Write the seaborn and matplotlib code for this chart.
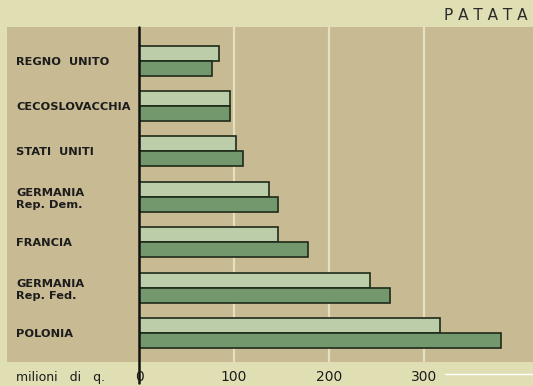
import matplotlib
matplotlib.use("Agg")
import matplotlib.pyplot as plt
import seaborn as sns
import pandas as pd
from matplotlib.patches import Rectangle

paesi = ["REGNO  UNITO", "CECOSLOVACCHIA", "STATI  UNITI", "GERMANIA\nRep. Dem.",
         "FRANCIA", "GERMANIA\nRep. Fed.", "POLONIA"]
serie = ["A", "B"]
valori_a = [84, 96, 102, 137, 146, 243, 317]
valori_b = [77, 96, 110, 146, 178, 264, 381]
ticks = [0, 100, 200, 300]

df = pd.DataFrame({
    "paese": paesi * 2,
    "serie": [serie[0]] * len(paesi) + [serie[1]] * len(paesi),
    "valore": valori_a + valori_b,
})

sns.set_theme(style="white")
plt.rcParams["font.family"] = ["DejaVu Sans"]

W, H = 533, 386
fig = plt.figure(figsize=(W / 100, H / 100), dpi=100)
fig.patch.set_facecolor("#dfdfb3")

BG = "#c8ba92"
x0, x1 = 139, 533
y0, y1 = 27, 362
# panel part to the left of the axis
fig.patches.append(Rectangle((7 / W, 1 - y1 / H), (x0 - 7) / W, (y1 - y0) / H,
                             transform=fig.transFigure, facecolor=BG,
                             edgecolor="none", zorder=-5))
ax = fig.add_axes([x0 / W, 1 - y1 / H, (x1 - x0) / W, (y1 - y0) / H])
ax.set_facecolor(BG)

sns.barplot(data=df, y="paese", x="valore", hue="serie", orient="h",
            palette=["#bdd3a3", "#6f9f66"], width=0.66, dodge=True,
            edgecolor="#1e2a18", linewidth=1.2, ax=ax, legend=False, zorder=3)

ax.set_ylim(6.64, -0.74)
xlim_max = 415
ax.set_xlim(0, xlim_max)
for t in ticks[1:]:
    ax.axvline(t, color="#e6e0c2", lw=1.6, zorder=1)
for s in ax.spines.values():
    s.set_visible(False)

ax.set_xlabel("")
ax.set_ylabel("")
ax.set_xticks([])
ax.tick_params(axis="y", length=0, pad=(x0 - 16) * 0.72, labelsize=8.2,
               labelcolor="#1c1c1c")
for lab in ax.get_yticklabels():
    lab.set_horizontalalignment("left")
    lab.set_fontweight("bold")
    lab.set_linespacing(1.3)

# zero axis line extending below the panel
ax.plot([0, 0], [-0.74, 6.64 + (383 - y1) / ((y1 - y0) / 7.38)], color="#111111",
        lw=1.8, clip_on=False, zorder=5)

# tick labels under panel
ty = 1 - 377 / H
for t in ticks:
    xf = (x0 + t * (x1 - x0) / xlim_max) / W
    fig.text(xf, ty, str(t), ha="center", va="center", fontsize=10,
             color="#1c1c1c")
fig.text(16 / W, ty, "milioni   di   q.", ha="left", va="center", fontsize=9,
         color="#1c1c1c")
fig.text(527 / W, 1 - 15 / H, "P A T A T A", ha="right", va="center",
         fontsize=11, color="#2a2a2a")
fig.lines.append(plt.Line2D([445 / W, 1], [1 - 374 / H] * 2,
                            transform=fig.transFigure, color="white", lw=1))

fig.savefig("out.png", dpi=100, facecolor=fig.get_facecolor())
